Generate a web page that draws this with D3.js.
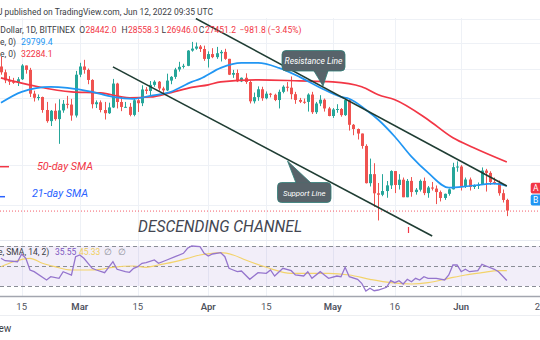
<!DOCTYPE html>
<html><head><meta charset="utf-8">
<script src="https://cdn.jsdelivr.net/npm/d3@7"></script>
<style>html,body{margin:0;padding:0;background:#fff;overflow:hidden}svg{display:block}</style>
</head><body><svg id="c" width="540" height="340"></svg>
<script>
// ---------- DATA ----------
const startDate = "2022-02-10"; // first (partly visible) daily candle, one candle per day
const opens = [44400,43550,42400,42200,42050,42550,44550,43900,40550,40000,
 40100,38400,37000,38300,37250,38350,39200,39100,37700,43200,
 44400,43900,42450,39150,39400,38400,37990,38730,41940,39440,
 38790,38810,37780,39670,39280,41120,40920,41760,42200,41260,
 41000,42360,42890,43960,44350,44500,46820,47130,47460,47070,
 45540,46280,45810,46410,46620,45550,43200,43450,42250,42760,
 42160,39530,40080,41150,39940,40550,40400,39700,40800,41500,
 41370,40480,39710,39470,39450,40430,38120,39240,39740,38600,
 37640,38470,38530,37750,39690,36550,36040,35500,34060,30080,
 31000,29080,28940,29300,29860,31320,29900,30430,28700,30310,
 29200,29430,30310,29100,29650,29540,29200,28630,29030,29470,
 31730,31800,29800,30450,29700,29860,29910,31370,31130,30200,
 30110,29090,28442.0];
const highs = [45850,43950,43000,42750,42850,44750,44550,44200,40950,40450,
 40150,39450,38400,39250,39800,39700,40250,39850,43750,44950,
 45400,44100,42550,39650,39650,39450,39350,42600,42050,40200,
 39450,39300,39900,39900,41700,41450,42300,42400,42300,41500,
 43350,43000,44200,45100,44800,46900,48200,48100,47700,47600,
 46700,47200,47400,46900,47100,45550,43900,43950,42800,43400,
 42400,40700,41550,41500,40850,40650,40550,41100,41700,42150,
 42950,40800,39980,39900,40600,40800,39450,40350,39900,38800,
 38650,39150,38650,39900,39800,36650,36100,35500,34250,32650,
 32150,30100,31000,30300,31400,31320,31000,30650,30500,30700,
 29600,30450,30650,29800,30200,29850,29350,29050,29550,32200,
 32350,31950,30650,30650,29950,30150,31700,31550,31300,30650,
 30350,29450,28558.3];
const lows = [43200,42000,41750,41900,41600,42450,43350,40100,39500,39650,
 38050,36800,36400,37050,34300,38050,38600,37050,37450,42850,
 43350,41850,38600,38650,38100,37200,37900,38650,38600,38250,
 38700,37600,37600,38150,38900,40500,40200,41500,40950,40500,
 40900,41850,42600,43650,44100,44450,46650,46950,46600,45250,
 44250,45650,45550,45150,45400,43150,42750,42150,42150,41900,
 39250,39250,39600,39600,39800,40050,39550,38600,40600,40850,
 39800,39200,39300,39200,38200,37900,37900,38900,38200,37600,
 37400,38050,37550,37650,35850,35300,34800,33750,30050,29750,
 27800,26560,28800,28650,29500,29100,29450,28700,28700,28750,
 28950,29250,28900,28650,29350,28050,28300,28450,28850,29450,
 31250,29350,29600,29350,29500,29500,29900,29250,29900,29950,
 28850,28200,26946.0];
const closes = [43550,42400,42200,42050,42550,44550,43900,40550,40000,40100,
 38400,37000,38300,37250,38350,39200,39100,37700,43200,44400,
 43900,42450,39150,39400,38400,37990,38730,41940,39440,38790,
 38810,37780,39670,39280,41120,40920,41760,42200,41260,41000,
 42360,42890,43960,44350,44500,46820,47130,47460,47070,45540,
 46280,45810,46410,46620,45550,43200,43450,42250,42760,42160,
 39530,40080,41150,39940,40550,40400,39700,40800,41500,41370,
 40480,39710,39470,39450,40430,38120,39240,39740,38600,37640,
 38470,38530,37750,39690,36550,36040,35500,34060,30080,31000,
 29080,28940,29300,29860,31320,29900,30430,28700,30310,29200,
 29430,30310,29100,29650,29540,29200,28630,29030,29470,31730,
 31800,29800,30450,29700,29860,29910,31370,31130,30200,30110,
 29090,28442,27451.2];

const sma50Dates = ["2022-02-10","2022-02-15","2022-02-19","2022-02-27","2022-03-06","2022-03-13","2022-03-18","2022-03-23","2022-03-28","2022-04-01","2022-04-04","2022-04-13","2022-04-23","2022-05-01","2022-05-08","2022-05-12","2022-05-16","2022-05-24","2022-05-30","2022-06-04","2022-06-12"];
const sma50Values = [42750,42000,41500,40800,40650,40000,40100,40700,41400,41760,42180,42460,42320,42180,41500,40400,39730,37170,35000,33860,32284.1];

const sma21Dates = ["2022-02-10","2022-02-15","2022-02-22","2022-02-26","2022-03-04","2022-03-09","2022-03-14","2022-03-18","2022-03-23","2022-03-28","2022-03-30","2022-04-04","2022-04-09","2022-04-13","2022-04-18","2022-04-23","2022-04-28","2022-05-03","2022-05-05","2022-05-09","2022-05-12","2022-05-16","2022-05-20","2022-05-24","2022-05-29","2022-06-03","2022-06-09","2022-06-12"];
const sma21Values = [39330,40800,41480,41350,40800,40120,39860,40260,40800,42180,42600,44200,44930,44930,44200,42890,41350,40120,39860,38430,37170,35120,32860,31150,29640,29800,30030,29799.4];

const rsiDates = ["2022-02-10","2022-02-11","2022-02-14","2022-02-15","2022-02-16","2022-02-17","2022-02-18","2022-02-21","2022-02-22","2022-02-24","2022-02-25","2022-02-27","2022-02-28","2022-03-01","2022-03-02","2022-03-04","2022-03-05","2022-03-07","2022-03-09","2022-03-10","2022-03-12","2022-03-13","2022-03-14","2022-03-15","2022-03-16","2022-03-17","2022-03-19","2022-03-20","2022-03-22","2022-03-24","2022-03-26","2022-03-27","2022-03-28","2022-03-30","2022-03-31","2022-04-01","2022-04-02","2022-04-04","2022-04-05","2022-04-06","2022-04-07","2022-04-08","2022-04-09","2022-04-11","2022-04-12","2022-04-13","2022-04-15","2022-04-16","2022-04-17","2022-04-19","2022-04-21","2022-04-22","2022-04-24","2022-04-25","2022-04-26","2022-04-28","2022-04-29","2022-04-30","2022-05-02","2022-05-03","2022-05-04","2022-05-05","2022-05-07","2022-05-08","2022-05-09","2022-05-10","2022-05-11","2022-05-12","2022-05-14","2022-05-15","2022-05-16","2022-05-17","2022-05-18","2022-05-19","2022-05-20","2022-05-21","2022-05-22","2022-05-23","2022-05-24","2022-05-26","2022-05-28","2022-05-29","2022-05-30","2022-05-31","2022-06-01","2022-06-02","2022-06-03","2022-06-05","2022-06-06","2022-06-07","2022-06-09","2022-06-10","2022-06-12"];
const rsiValues = [57.7,55.3,54.3,62,57.7,46,44.3,36,39.3,37.7,44.3,41,59.3,61,57.7,47.7,46,43.3,54.3,46.7,44.3,43.7,47.7,49.3,52.7,53.3,56,52.7,56,59.3,62.7,67.7,70,69.3,62.7,60,62,63.3,59.3,47.7,46,44.3,45,36.7,40,43.3,42.7,46,40,47.7,45.3,41,40,44.3,37.7,44.3,41,37.7,40,39.3,48.7,39.3,36.7,32.7,25,27.7,25.3,26,28.7,35.3,33.3,35.3,32,36.7,34.3,37.7,36,39.3,37.7,37.7,36,41,51,51,44.3,46.7,44.3,45.3,51.7,50,46.7,44.3,35.55];

const rsiMaDates = ["2022-02-10","2022-02-13","2022-02-17","2022-02-20","2022-02-23","2022-02-27","2022-03-03","2022-03-06","2022-03-09","2022-03-14","2022-03-17","2022-03-20","2022-03-24","2022-03-27","2022-03-30","2022-04-02","2022-04-04","2022-04-07","2022-04-10","2022-04-15","2022-04-21","2022-04-26","2022-04-30","2022-05-05","2022-05-10","2022-05-15","2022-05-20","2022-05-24","2022-05-29","2022-06-02","2022-06-06","2022-06-10","2022-06-12"];
const rsiMaValues = [49.3,54.3,57.7,52.7,49.3,46,46,46.7,48.7,50,48.7,51,54.3,57.7,61,62.7,63.3,61,56,48.7,42.7,42.7,42.7,41,36.7,33.3,32,33.3,37.7,41,43.3,45.3,45.33];

const timeTickDates = ["2022-02-15","2022-03-01","2022-03-15","2022-04-01","2022-04-15","2022-05-01","2022-05-16","2022-06-01","2022-06-20"];
const timeTickLabels = ["15","Mar","15","Apr","15","May","16","Jun","20"];
const gridPrices = [28000,32000,36000,40000,44000,48000,52000];
const rsiLevels = [70,50,30];

const resistanceLine = [["2022-03-29",52110],["2022-06-12",29800]];
const supportLine = [["2022-03-09",44340],["2022-05-25",25220]];
const lastPrice = 27451.2;

// ---------- DRAWING ----------
const W = 540, H = 340;
const svg = d3.select("#c");
const parse = d3.utcParse("%Y-%m-%d");
const x = d3.scaleUtc().domain([parse("2022-02-15"), parse("2022-06-20")]).range([21.7, 540]);
const y = d3.scaleLog().domain([25050, 52550]).range([238, 16]);
const yR = d3.scaleLinear().domain([30, 70]).range([286, 246]);
const paneTop = 18, paneBottom = 239;
const FONT = "Roboto, 'Open Sans', Arial, sans-serif";
const UP = "#26a69a", DOWN = "#ef5350", RED = "#f23645", BLUE = "#2196f3";

const defs = svg.append("defs");
defs.append("clipPath").attr("id","pp").append("rect").attr("x",0).attr("y",paneTop).attr("width",W).attr("height",paneBottom-paneTop);

// vertical grid (both panes)
svg.append("g").selectAll("line").data(timeTickDates).join("line")
  .attr("x1", d => Math.round(x(parse(d))) + 0.5).attr("x2", d => Math.round(x(parse(d))) + 0.5)
  .attr("y1", paneTop).attr("y2", 296).attr("stroke", "#eef1f6").attr("stroke-width", 1);
// horizontal grid
svg.append("g").selectAll("line").data(gridPrices).join("line")
  .attr("x1", 0).attr("x2", W)
  .attr("y1", d => Math.round(y(d)) + 0.5).attr("y2", d => Math.round(y(d)) + 0.5)
  .attr("stroke", "#eef1f6").attr("stroke-width", 1);

// pane separators / axis lines
svg.append("line").attr("x1",0).attr("x2",W).attr("y1",240.5).attr("y2",240.5).attr("stroke","#e6e9f0");
svg.append("line").attr("x1",0).attr("x2",W).attr("y1",296.5).attr("y2",296.5).attr("stroke","#a3a6af").attr("stroke-width",1.3);
svg.append("line").attr("x1",0).attr("x2",W).attr("y1",315.5).attr("y2",315.5).attr("stroke","#eceef2");

const pp = svg.append("g").attr("clip-path","url(#pp)");

// last price dotted line
pp.append("line").attr("x1",0).attr("x2",W).attr("y1",y(lastPrice)+0.5).attr("y2",y(lastPrice)+0.5)
  .attr("stroke",RED).attr("stroke-width",1).attr("stroke-dasharray","1,2").attr("opacity",0.8);

// candles
const candles = opens.map((o,i) => ({d: d3.utcDay.offset(parse(startDate), i), o, h: highs[i], l: lows[i], c: closes[i]}));
const cg = pp.append("g");
candles.forEach(k => {
  const cx = Math.round(x(k.d));
  const col = k.c >= k.o ? UP : DOWN;
  cg.append("line").attr("x1",cx+0.5).attr("x2",cx+0.5).attr("y1",y(k.h)).attr("y2",y(k.l)).attr("stroke",col).attr("stroke-width",1);
  const top = y(Math.max(k.o,k.c)), bot = y(Math.min(k.o,k.c));
  cg.append("rect").attr("x",cx-1).attr("y",top).attr("width",3).attr("height",Math.max(1,bot-top)).attr("fill",col);
});

// moving averages
const lineP = d3.line().x(d => x(d[0])).y(d => y(d[1])).curve(d3.curveMonotoneX);
pp.append("path").attr("d", lineP(sma50Dates.map((d,i)=>[parse(d), sma50Values[i]])))
  .attr("fill","none").attr("stroke",RED).attr("stroke-width",1.7);
pp.append("path").attr("d", lineP(sma21Dates.map((d,i)=>[parse(d), sma21Values[i]])))
  .attr("fill","none").attr("stroke",BLUE).attr("stroke-width",1.7);

// channel trend lines
const trend = d3.line().x(d => x(parse(d[0]))).y(d => y(d[1]));
[resistanceLine, supportLine].forEach(L => {
  pp.append("path").attr("d", trend(L)).attr("fill","none").attr("stroke","#1f3d33").attr("stroke-width",1.6);
});

// small red tick below channel
svg.append("line").attr("x1",408.5).attr("x2",408.5).attr("y1",227).attr("y2",233).attr("stroke",RED).attr("stroke-width",1.2);

// callouts
function callout(bx, by, bw, bh, tri, label, fs){
  const g = svg.append("g");
  g.append("path").attr("d", d3.line()(tri) + "Z").attr("fill","#58636a").attr("stroke","#2e7d77").attr("stroke-width",0.8);
  g.append("rect").attr("x",bx).attr("y",by).attr("width",bw).attr("height",bh).attr("rx",4)
    .attr("fill","#58636a").attr("stroke","#2e7d77").attr("stroke-width",0.8);
  g.append("path").attr("d", d3.line()(tri.slice(0,2))).attr("stroke","#58636a").attr("stroke-width",1.6);
  g.append("text").attr("x",bx+bw/2).attr("y",by+bh/2+3).attr("text-anchor","middle")
    .attr("font-family",FONT).attr("font-style","italic").attr("font-size",fs).attr("fill","#ffffff").text(label);
}
callout(282, 50.5, 63, 20.5, [[314,71],[328,71],[323,86]], "Resistance Line", 8.5);
callout(277.5, 182.5, 53.5, 20, [[296,183],[311,183],[287.5,161]], "Support Line", 7.8);

// labels on chart
svg.append("line").attr("x1",0).attr("x2",9).attr("y1",166.7).attr("y2",166.7).attr("stroke",RED).attr("stroke-width",1.5);
svg.append("line").attr("x1",0).attr("x2",5).attr("y1",196.7).attr("y2",196.7).attr("stroke","#2962ff").attr("stroke-width",1.5);
svg.append("text").attr("x",37).attr("y",169.8).attr("font-family",FONT).attr("font-style","italic").attr("font-size",10.5)
  .attr("fill",RED).attr("textLength",56).attr("lengthAdjust","spacingAndGlyphs").text("50-day SMA");
svg.append("text").attr("x",32).attr("y",196.5).attr("font-family",FONT).attr("font-style","italic").attr("font-size",10.5)
  .attr("fill","#2962ff").attr("textLength",56).attr("lengthAdjust","spacingAndGlyphs").text("21-day SMA");
svg.append("text").attr("x",138).attr("y",231.5).attr("font-family",FONT).attr("font-style","italic").attr("font-size",16.5)
  .attr("fill","#434651").attr("textLength",164).attr("lengthAdjust","spacingAndGlyphs").text("DESCENDING CHANNEL");

// right-edge badges
svg.append("rect").attr("x",530.7).attr("y",182.7).attr("width",14).attr("height",10.8).attr("rx",2).attr("fill",RED);
svg.append("text").attr("x",533).attr("y",191.2).attr("font-family",FONT).attr("font-size",8.5).attr("fill","#fff").text("A");
svg.append("rect").attr("x",530.7).attr("y",194.5).attr("width",14).attr("height",11).attr("rx",2).attr("fill",BLUE);
svg.append("text").attr("x",533).attr("y",203.2).attr("font-family",FONT).attr("font-size",8.5).attr("fill","#fff").text("B");

// RSI pane
svg.append("rect").attr("x",0).attr("y",yR(70)).attr("width",W).attr("height",yR(30)-yR(70)).attr("fill","rgba(126,87,194,0.1)");
svg.append("g").selectAll("line").data(rsiLevels).join("line")
  .attr("x1",0).attr("x2",W).attr("y1",d=>Math.round(yR(d))+0.5).attr("y2",d=>Math.round(yR(d))+0.5)
  .attr("stroke","#8a8d96").attr("stroke-width",1).attr("stroke-dasharray","4,3");
const lineR = d3.line().x(d => x(d[0])).y(d => yR(d[1]));
svg.append("path").attr("d", lineR.curve(d3.curveMonotoneX)(rsiMaDates.map((d,i)=>[parse(d), rsiMaValues[i]])))
  .attr("fill","none").attr("stroke","#f3d36b").attr("stroke-width",1.2);
svg.append("path").attr("d", d3.line().x(d => x(d[0])).y(d => yR(d[1]))(rsiDates.map((d,i)=>[parse(d), rsiValues[i]])))
  .attr("fill","none").attr("stroke","#9575cd").attr("stroke-width",1.3);

// time axis labels
svg.append("g").selectAll("text").data(timeTickDates).join("text")
  .attr("x", d => x(parse(d))).attr("y", 310).attr("text-anchor","middle")
  .attr("font-family",FONT).attr("font-size",9.5)
  .attr("font-weight",(d,i)=> isNaN(+timeTickLabels[i]) ? 600 : 400)
  .attr("fill","#50535e").text((d,i)=>timeTickLabels[i]);

// header / legends
const T = (xx, yy, str, col, fs, len) => {
  const t = svg.append("text").attr("x",xx).attr("y",yy).attr("font-family",FONT).attr("font-size",fs||8.5).attr("fill",col).text(str);
  if (len) t.attr("textLength",len).attr("lengthAdjust","spacingAndGlyphs");
  return t;
};
const DK = "#3a3d45";
T(-3, 15, "U published on TradingView.com, Jun 12, 2022 09:35 UTC", DK, 9.5, 216);
T(-4, 32.6, ". Dollar, 1D, BITFINEX", DK, 8.5);
const hdr = [["O",79.3,DK],["28442.0",85.5,RED],["H",121.5,DK],["28558.3",128,RED],["L",161.5,DK],["26946.0",166.8,RED],["C",198.8,DK],["27451.2",205,RED],["−981.8 (−3.45%)",239.5,RED]];
hdr.forEach(h => T(h[1], 32.6, h[0], h[2], 8.5));
T(0, 44.6, "e, 0)", DK, 8.5); T(21, 44.6, "29799.4", BLUE, 8.7);
T(0, 56.6, "e, 0)", DK, 8.5); T(21, 56.6, "32284.1", RED, 8.7);
T(-2, 255, "e, SMA, 14, 2)", DK, 8.5);
T(55, 255, "35.55", "#7e57c2", 8.5);
T(79, 255, "45.33", "#f1cf5c", 8.5);
T(104, 255, "∅", "#8a8d96", 8.5);
T(118, 255, "∅", "#8a8d96", 8.5);
T(-4, 331.5, "iew", DK, 10);
</script></body></html>
